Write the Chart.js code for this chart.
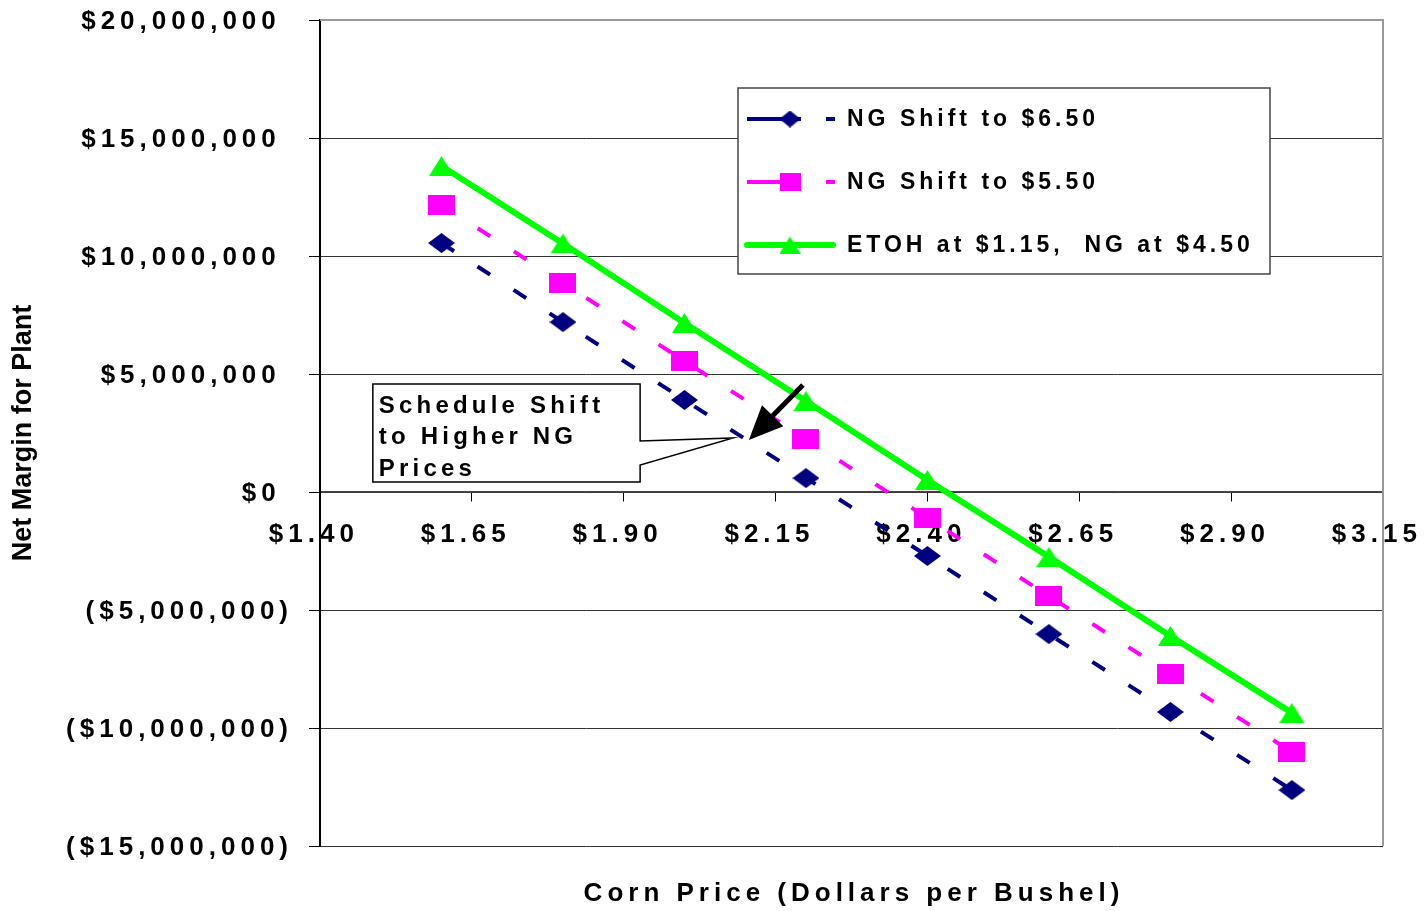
<!DOCTYPE html>
<html>
<head>
<meta charset="utf-8">
<title>Net Margin for Plant</title>
<script src="https://cdn.jsdelivr.net/npm/chart.js@4.4.1/dist/chart.umd.min.js"></script>
<style>
  body { margin: 0; background: #fff; }
  canvas { display: block; }
</style>
</head>
<body>
<canvas id="grafica" width="1426" height="911"></canvas>
<script>
// Datos (precio del maiz en $/bushel, margen neto en $)
const preciosMaiz = [1.60, 1.80, 2.00, 2.20, 2.40, 2.60, 2.80, 3.00];
const margenNG650 = [10550000, 7200000, 3900000, 590000, -2710000, -6020000, -9320000, -12630000];
const margenNG550 = [12160000, 8860000, 5550000, 2250000, -1100000, -4410000, -7710000, -11020000];
const margenEtoh = [13810000, 10530000, 7160000, 3860000, 510000, -2750000, -6100000, -9360000];
const etiquetas = ['NG Shift to $6.50', 'NG Shift to $5.50', 'ETOH at $1.15,  NG at $4.50'];
const textoNota = ['Schedule Shift', 'to Higher NG', 'Prices'];

const fuente = "'Liberation Sans', Arial, sans-serif";

// marcadores dibujados a mano (son mas anchos que altos, como en el original)
function marcador(forma, w, h, color) {
    const c = document.createElement('canvas');
    c.width = w;
    c.height = h;
    const g = c.getContext('2d');
    g.fillStyle = color;
    g.beginPath();
    if (forma === 'rombo') {
        g.moveTo(w / 2, 0); g.lineTo(w, h / 2); g.lineTo(w / 2, h); g.lineTo(0, h / 2);
    } else if (forma === 'cuadro') {
        g.rect(0, 0, w, h);
    } else {
        g.moveTo(w / 2, 0); g.lineTo(w, h); g.lineTo(0, h);
    }
    g.closePath();
    g.fill();
    return c;
}

const colores = ['#000080', '#ff00ff', '#00ff00'];
const marcadores = [
    marcador('rombo', 27, 20, colores[0]),
    marcador('cuadro', 27, 20, colores[1]),
    marcador('triangulo', 25, 20, colores[2])
];
const marcadoresLeyenda = [
    marcador('rombo', 21, 17, colores[0]),
    marcador('cuadro', 21, 18, colores[1]),
    marcador('triangulo', 21, 17, colores[2])
];

function puntos(valores) {
    return preciosMaiz.map((p, i) => ({ x: p, y: valores[i] }));
}

function formatoDolar(v) {
    const s = '$' + Math.abs(v).toLocaleString('en-US');
    return v < 0 ? '(' + s + ')' : s + ' ';
}

// espaciado de letras para las etiquetas de los ejes
const espaciado = {
    id: 'espaciado',
    beforeDraw(chart) {
        chart.ctx.letterSpacing = '5px';
    }
};

const extras = {
    id: 'extras',
    afterDraw(chart) {
        const ctx = chart.ctx;
        const { left, top, right, bottom } = chart.chartArea;
        const ex = chart.scales.x;
        const ey = chart.scales.y;

        ctx.save();
        ctx.letterSpacing = '0px';

        // borde gris arriba y a la derecha
        ctx.strokeStyle = '#999';
        ctx.lineWidth = 2;
        ctx.beginPath();
        ctx.moveTo(left, top);
        ctx.lineTo(right, top);
        ctx.lineTo(right, bottom);
        ctx.stroke();

        // Leyenda
        const lx = left + 418, ly = top + 68, lw = 532, lh = 186;
        ctx.fillStyle = '#fff';
        ctx.fillRect(lx, ly, lw, lh);
        ctx.strokeStyle = '#444';
        ctx.lineWidth = 1.5;
        ctx.strokeRect(lx, ly, lw, lh);
        ctx.font = 'bold 23px ' + fuente;
        ctx.letterSpacing = '4px';
        ctx.textAlign = 'left';
        ctx.textBaseline = 'middle';
        chart.data.datasets.forEach((ds, i) => {
            const cy = ly + 31 + i * 63;
            ctx.strokeStyle = ds.borderColor;
            ctx.lineWidth = ds.borderWidth;
            ctx.lineCap = ds.borderDash.length ? 'butt' : 'round';
            ctx.beginPath();
            if (ds.borderDash.length) {
                ctx.moveTo(lx + 9, cy); ctx.lineTo(lx + 63, cy);
                ctx.moveTo(lx + 88, cy); ctx.lineTo(lx + 97, cy);
            } else {
                ctx.moveTo(lx + 9, cy); ctx.lineTo(lx + 95, cy);
            }
            ctx.stroke();
            const m = marcadoresLeyenda[i];
            ctx.drawImage(m, lx + 52 - m.width / 2, cy - m.height / 2);
            ctx.fillStyle = '#000';
            ctx.fillText(ds.label, lx + 109, cy + 1);
        });

        // Nota con globo
        const bx1 = ex.getPixelForValue(1.487), bx2 = ex.getPixelForValue(1.927);
        const by1 = ey.getPixelForValue(4580000), by2 = ey.getPixelForValue(420000);
        const j1 = ey.getPixelForValue(2160000), j2 = ey.getPixelForValue(1140000);
        const px = ex.getPixelForValue(2.08), py = ey.getPixelForValue(2290000);
        ctx.lineCap = 'butt';
        ctx.beginPath();
        ctx.moveTo(bx1, by1);
        ctx.lineTo(bx2, by1);
        ctx.lineTo(bx2, j1);
        ctx.lineTo(px, py);
        ctx.lineTo(bx2, j2);
        ctx.lineTo(bx2, by2);
        ctx.lineTo(bx1, by2);
        ctx.closePath();
        ctx.fillStyle = '#fff';
        ctx.fill();
        ctx.strokeStyle = '#000';
        ctx.lineWidth = 1.5;
        ctx.stroke();
        ctx.fillStyle = '#000';
        ctx.font = 'bold 24px ' + fuente;
        ctx.letterSpacing = '4.2px';
        ctx.textBaseline = 'alphabetic';
        textoNota.forEach((t, i) => ctx.fillText(t, bx1 + 6, by1 + 29 + i * 31.5));

        // Flecha negra
        const ax1 = ex.getPixelForValue(2.195), ay1 = ey.getPixelForValue(4530000);
        const ax2 = ex.getPixelForValue(2.106), ay2 = ey.getPixelForValue(2200000);
        const ang = Math.atan2(ay2 - ay1, ax2 - ax1);
        const largoPunta = 34, anchoPunta = 15;
        const bxp = ax2 - largoPunta * Math.cos(ang), byp = ay2 - largoPunta * Math.sin(ang);
        ctx.lineWidth = 5;
        ctx.beginPath();
        ctx.moveTo(ax1, ay1);
        ctx.lineTo(bxp, byp);
        ctx.stroke();
        ctx.beginPath();
        ctx.moveTo(ax2, ay2);
        ctx.lineTo(bxp + anchoPunta * Math.sin(ang), byp - anchoPunta * Math.cos(ang));
        ctx.lineTo(bxp - anchoPunta * Math.sin(ang), byp + anchoPunta * Math.cos(ang));
        ctx.closePath();
        ctx.fill();

        // Titulos de los ejes
        ctx.font = 'bold 26px ' + fuente;
        ctx.letterSpacing = '5px';
        ctx.textAlign = 'center';
        ctx.textBaseline = 'middle';
        ctx.fillText('Corn Price (Dollars per Bushel)', (left + right) / 2 + 2.5, 894);

        ctx.letterSpacing = '0px';
        ctx.font = 'bold 27px ' + fuente;
        ctx.translate(24, (top + bottom) / 2);
        ctx.rotate(-Math.PI / 2);
        ctx.fillText('Net Margin for Plant', 0, 0);
        ctx.restore();

        ctx.letterSpacing = '0px';
    }
};

new Chart(document.getElementById('grafica'), {
    type: 'line',
    data: {
        datasets: [
            {
                label: etiquetas[0],
                data: puntos(margenNG650),
                borderColor: colores[0],
                backgroundColor: colores[0],
                borderWidth: 4,
                borderDash: [15, 28],
                pointStyle: marcadores[0],
                fill: false
            },
            {
                label: etiquetas[1],
                data: puntos(margenNG550),
                borderColor: colores[1],
                backgroundColor: colores[1],
                borderWidth: 4,
                borderDash: [15, 28],
                pointStyle: marcadores[1],
                fill: false
            },
            {
                label: etiquetas[2],
                data: puntos(margenEtoh),
                borderColor: colores[2],
                backgroundColor: colores[2],
                borderWidth: 6,
                borderDash: [],
                pointStyle: marcadores[2],
                fill: false
            }
        ]
    },
    options: {
        responsive: false,
        animation: false,
        devicePixelRatio: 1,
        layout: { padding: { left: 0, top: 20, right: 43, bottom: 65 } },
        plugins: {
            legend: { display: false },
            tooltip: { enabled: false }
        },
        scales: {
            x: {
                type: 'linear',
                position: { y: 0 },
                min: 1.4,
                max: 3.15,
                afterFit(scale) {
                    scale.paddingLeft = 0;
                    scale.paddingRight = 0;
                },
                ticks: {
                    stepSize: 0.25,
                    autoSkip: false,
                    maxRotation: 0,
                    padding: 18,
                    color: '#000',
                    font: { family: fuente, size: 26, weight: 'bold' },
                    callback: (v) => '$' + Number(v).toFixed(2) + ' '
                },
                grid: {
                    drawOnChartArea: false,
                    drawTicks: true,
                    tickLength: 9,
                    tickColor: '#000',
                    lineWidth: 1
                },
                border: { color: '#444', width: 1.5 }
            },
            y: {
                type: 'linear',
                min: -15000000,
                max: 20000000,
                afterFit(scale) {
                    scale.width = 320;
                    scale.paddingTop = 0;
                    scale.paddingBottom = 0;
                },
                ticks: {
                    stepSize: 5000000,
                    autoSkip: false,
                    padding: 16,
                    labelOffset: 2,
                    color: '#000',
                    font: { family: fuente, size: 26, weight: 'bold' },
                    callback: (v) => formatoDolar(v)
                },
                grid: {
                    color: '#333',
                    lineWidth: 1,
                    tickLength: 11,
                    tickColor: '#000'
                },
                border: { color: '#000', width: 2 }
            }
        }
    },
    plugins: [espaciado, extras]
});
</script>
</body>
</html>
